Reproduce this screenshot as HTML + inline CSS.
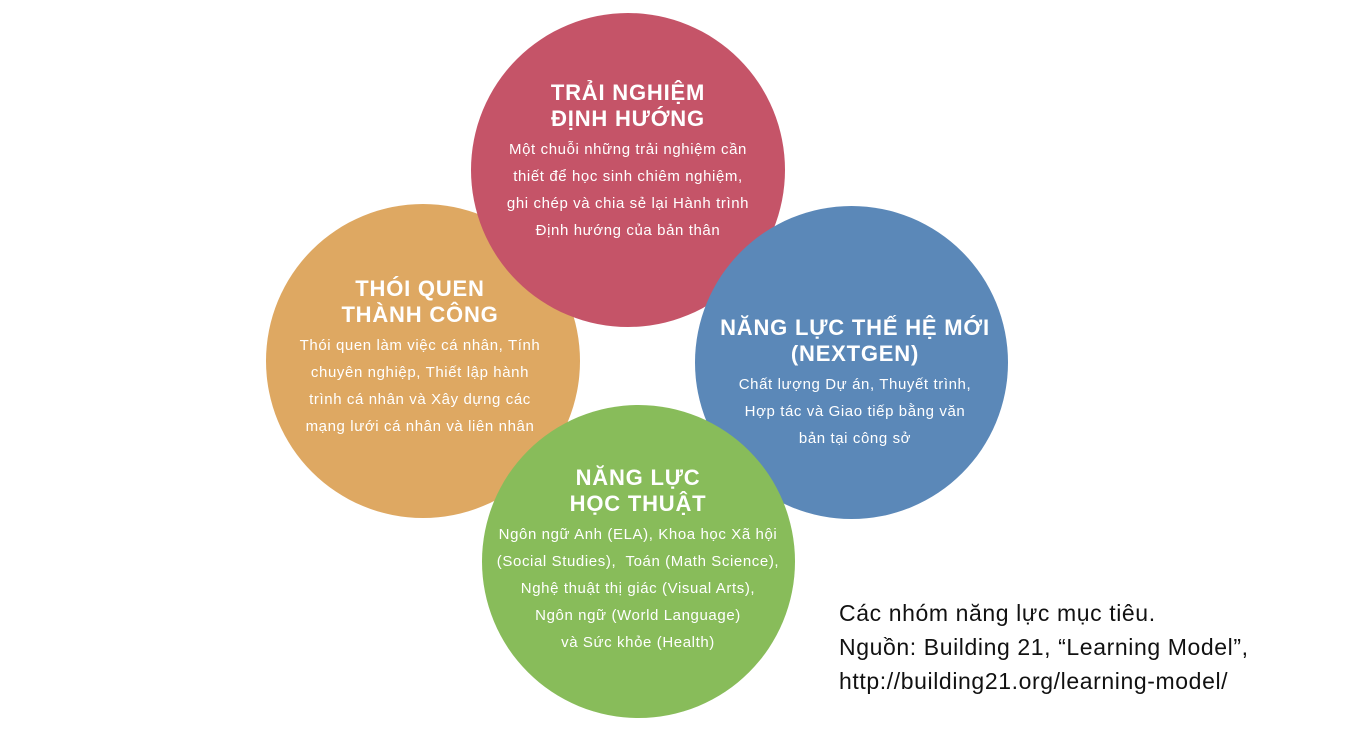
<!DOCTYPE html>
<html><head><meta charset="utf-8"><style>
body{margin:0;width:1348px;height:734px;background:#fff;position:relative;overflow:hidden;font-family:"Liberation Sans","DejaVu Sans",sans-serif}
.c{position:absolute;border-radius:50%}
.t{position:absolute;color:#fff;text-align:center;transform:translateX(-50%)}
.h{font-weight:bold;font-size:22px;line-height:26px;white-space:nowrap;letter-spacing:0.8px}
.b{font-size:15px;line-height:27px;white-space:nowrap;margin-top:4px;letter-spacing:0.6px}
.cap{position:absolute;left:839px;top:596px;font-size:23px;line-height:34px;color:#111;letter-spacing:0.6px;white-space:nowrap}
</style></head><body>
<div class="c" style="left:266px;top:204px;width:314px;height:314px;background:#dea862"></div>
<div class="c" style="left:471px;top:13px;width:314px;height:314px;background:#c55468"></div>
<div class="c" style="left:695px;top:206px;width:313px;height:313px;background:#5b88b8"></div>
<div class="c" style="left:482px;top:405px;width:313px;height:313px;background:#88bc5a"></div>

<div class="t" style="left:628px;top:80px"><div class="h">TRẢI NGHIỆM<br>ĐỊNH HƯỚNG</div><div class="b">Một chuỗi những trải nghiệm cần<br>thiết để học sinh chiêm nghiệm,<br>ghi chép và chia sẻ lại Hành trình<br>Định hướng của bản thân</div></div>

<div class="t" style="left:420px;top:276px"><div class="h">THÓI QUEN<br>THÀNH CÔNG</div><div class="b">Thói quen làm việc cá nhân, Tính<br>chuyên nghiệp, Thiết lập hành<br>trình cá nhân và Xây dựng các<br>mạng lưới cá nhân và liên nhân</div></div>

<div class="t" style="left:855px;top:315px"><div class="h">NĂNG LỰC THẾ HỆ MỚI<br>(NEXTGEN)</div><div class="b">Chất lượng Dự án, Thuyết trình,<br>Hợp tác và Giao tiếp bằng văn<br>bản tại công sở</div></div>

<div class="t" style="left:638px;top:465px"><div class="h">NĂNG LỰC<br>HỌC THUẬT</div><div class="b">Ngôn ngữ Anh (ELA), Khoa học Xã hội<br>(Social Studies),&nbsp; Toán (Math Science),<br>Nghệ thuật thị giác (Visual Arts),<br>Ngôn ngữ (World Language)<br>và Sức khỏe (Health)</div></div>

<div class="cap">Các nhóm năng lực mục tiêu.<br>Nguồn: Building 21, “Learning Model”,<br>http://building21.org/learning-model/</div>
</body></html>
